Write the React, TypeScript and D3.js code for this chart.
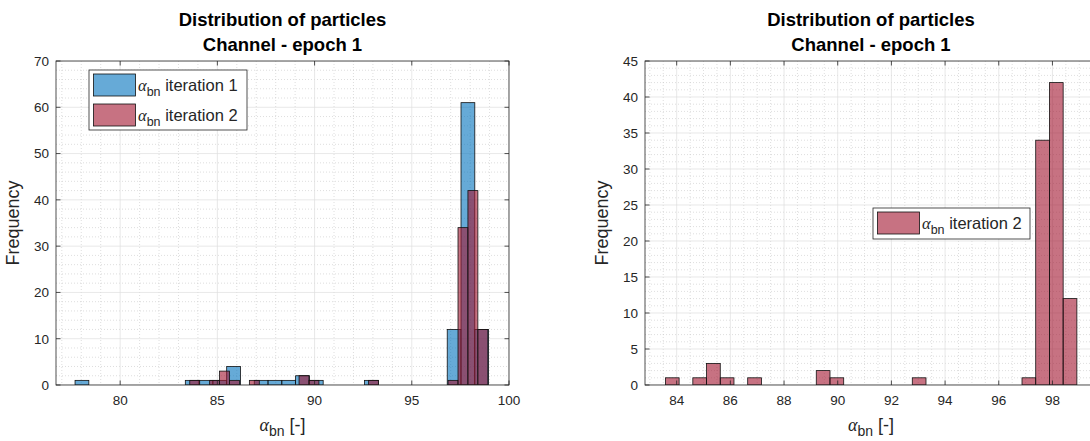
import React from 'react';
import * as d3 from 'd3';

// Histogram bins: first edge, bin width and count per bin for each iteration
const iter1Start = 77.68;
const iter1Width = 0.709;
const iter1Counts = [1, 0, 0, 0, 0, 0, 0, 0, 1, 1, 1, 4, 0, 1, 1, 1, 2, 1, 0, 0, 0, 1, 0, 0, 0, 0, 0, 12, 61, 12];

const iter2Start = 83.58;
const iter2Width = 0.511;
const iter2Counts = [1, 0, 1, 3, 1, 0, 1, 0, 0, 0, 0, 2, 1, 0, 0, 0, 0, 0, 1, 0, 0, 0, 0, 0, 0, 0, 1, 34, 42, 12];

const leftXTicks = [80, 85, 90, 95, 100];
const leftYTicks = [0, 10, 20, 30, 40, 50, 60, 70];
const rightXTicks = [84, 86, 88, 90, 92, 94, 96, 98, 100];
const rightYTicks = [0, 5, 10, 15, 20, 25, 30, 35, 40, 45];

const titleLines = ['Distribution of particles', 'Channel - epoch 1'];
const yLabel = 'Frequency';
const seriesNames = ['iteration 1', 'iteration 2'];

const BLUE = 'rgb(0,114,189)';
const RED = 'rgb(162,20,47)';
const AXIS = '#262626';
const SANS = 'Arial, "Liberation Sans", Helvetica, sans-serif';
const SERIF = '"Liberation Serif", "DejaVu Serif", serif';

type Bin = { x0: number; x1: number; count: number };
const toBins = (start: number, width: number, counts: number[]): Bin[] =>
  counts.map((count, i) => ({ x0: start + i * width, x1: start + (i + 1) * width, count }));

type Series = { bins: Bin[]; color: string };

type LegendCfg = { x: number; y: number; w: number; h: number; items: { color: string; label: string }[] };

function minorValues(domain: [number, number], step: number, majors: number[]) {
  const out: number[] = [];
  const start = Math.ceil(domain[0] / step) * step;
  for (let v = start; v <= domain[1] + 1e-9; v += step) {
    const r = Math.round(v * 1000) / 1000;
    if (!majors.some((m) => Math.abs(m - r) < 1e-6)) out.push(r);
  }
  return out;
}

function AlphaLabel({ x, y, size, subSize, rest, anchor }: { x: number; y: number; size: number; subSize: number; rest: string; anchor: string }) {
  return (
    <text x={x} y={y} textAnchor={anchor} fontFamily={SANS} fontSize={size} fill={AXIS}>
      <tspan fontFamily={SERIF} fontStyle="italic">α</tspan>
      <tspan fontSize={subSize} dy={5}>bn</tspan>
      <tspan dy={-5}>{rest}</tspan>
    </text>
  );
}

function Panel({
  id, left, right, top, bottom, xDomain, yDomain, xTicks, yTicks, xMinorStep, yMinorStep, series, legend,
}: {
  id: string; left: number; right: number; top: number; bottom: number;
  xDomain: [number, number]; yDomain: [number, number]; xTicks: number[]; yTicks: number[];
  xMinorStep: number; yMinorStep: number; series: Series[]; legend: LegendCfg;
}) {
  const x = d3.scaleLinear().domain(xDomain).range([left, right]);
  const y = d3.scaleLinear().domain(yDomain).range([bottom, top]);
  const xMinor = minorValues(xDomain, xMinorStep, xTicks);
  const yMinor = minorValues(yDomain, yMinorStep, yTicks);
  const cx = (left + right) / 2;
  const cy = (top + bottom) / 2;
  const tl = 4.5;
  const visibleXTicks = xTicks.filter((t) => t >= xDomain[0] && t <= xDomain[1]);

  return (
    <g>
      <defs>
        <clipPath id={`clip-${id}`}>
          <rect x={left} y={top} width={right - left} height={bottom - top} />
        </clipPath>
      </defs>
      <rect x={left} y={top} width={right - left} height={bottom - top} fill="#fff" />
      <g clipPath={`url(#clip-${id})`}>
        {xMinor.map((v) => (
          <line key={`xm${v}`} x1={x(v)} x2={x(v)} y1={top} y2={bottom} stroke="#c8c8c8" strokeWidth={0.6} strokeDasharray="1,2" />
        ))}
        {yMinor.map((v) => (
          <line key={`ym${v}`} x1={left} x2={right} y1={y(v)} y2={y(v)} stroke="#c8c8c8" strokeWidth={0.6} strokeDasharray="1,2" />
        ))}
        {visibleXTicks.map((v) => (
          <line key={`xg${v}`} x1={x(v)} x2={x(v)} y1={top} y2={bottom} stroke="#dedede" strokeWidth={0.7} />
        ))}
        {yTicks.map((v) => (
          <line key={`yg${v}`} x1={left} x2={right} y1={y(v)} y2={y(v)} stroke="#dedede" strokeWidth={0.7} />
        ))}
        {series.map((s, si) => (
          <g key={`s${si}`}>
            {s.bins.filter((b) => b.count > 0).map((b, bi) => (
              <rect
                key={bi}
                x={x(b.x0)}
                y={y(b.count)}
                width={x(b.x1) - x(b.x0)}
                height={y(0) - y(b.count)}
                fill={s.color}
                fillOpacity={0.6}
                stroke="#111"
                strokeWidth={0.8}
              />
            ))}
          </g>
        ))}
      </g>
      {/* box and inward ticks */}
      <rect x={left} y={top} width={right - left} height={bottom - top} fill="none" stroke={AXIS} strokeWidth={0.8} />
      {visibleXTicks.map((v) => (
        <g key={`xt${v}`}>
          <line x1={x(v)} x2={x(v)} y1={bottom} y2={bottom - tl} stroke={AXIS} strokeWidth={0.8} />
          <line x1={x(v)} x2={x(v)} y1={top} y2={top + tl} stroke={AXIS} strokeWidth={0.8} />
          <text x={x(v)} y={bottom + 20} textAnchor="middle" fontFamily={SANS} fontSize={13.5} fill={AXIS}>{v}</text>
        </g>
      ))}
      {yTicks.map((v) => (
        <g key={`yt${v}`}>
          <line x1={left} x2={left + tl} y1={y(v)} y2={y(v)} stroke={AXIS} strokeWidth={0.8} />
          <line x1={right} x2={right - tl} y1={y(v)} y2={y(v)} stroke={AXIS} strokeWidth={0.8} />
          <text x={left - 7} y={y(v) + 4.8} textAnchor="end" fontFamily={SANS} fontSize={13.5} fill={AXIS}>{v}</text>
        </g>
      ))}
      <text x={cx} y={26} textAnchor="middle" fontFamily={SANS} fontSize={18.5} fontWeight="bold" fill="#000">{titleLines[0]}</text>
      <text x={cx} y={51} textAnchor="middle" fontFamily={SANS} fontSize={18.5} fontWeight="bold" fill="#000">{titleLines[1]}</text>
      <text transform={`translate(${left - 37},${cy}) rotate(-90)`} textAnchor="middle" fontFamily={SANS} fontSize={18} fill={AXIS}>{yLabel}</text>
      <AlphaLabel x={cx} y={431} size={18} subSize={14} rest=" [-]" anchor="middle" />
      {/* legend */}
      <rect x={legend.x} y={legend.y} width={legend.w} height={legend.h} fill="#fff" stroke={AXIS} strokeWidth={0.8} />
      {legend.items.map((it, i) => (
        <g key={`lg${i}`}>
          <rect x={legend.x + 4.5} y={legend.y + 4 + i * 30} width={42} height={22} fill={it.color} fillOpacity={0.6} stroke="#111" strokeWidth={0.8} />
          <AlphaLabel x={legend.x + 49} y={legend.y + 20.5 + i * 30} size={16.5} subSize={12.5} rest={' ' + it.label} anchor="start" />
        </g>
      ))}
    </g>
  );
}

export default function App() {
  const bins1 = toBins(iter1Start, iter1Width, iter1Counts);
  const bins2 = toBins(iter2Start, iter2Width, iter2Counts);
  return (
    <svg width={1090} height={441} style={{ position: 'absolute', left: 0, top: 0, background: '#fff' }}>
      <rect width={1090} height={441} fill="#fff" />
      <Panel
        id="a"
        left={56} right={509} top={61} bottom={385}
        xDomain={[76.7, 100]} yDomain={[0, 70]}
        xTicks={leftXTicks} yTicks={leftYTicks}
        xMinorStep={1} yMinorStep={2}
        series={[{ bins: bins1, color: BLUE }, { bins: bins2, color: RED }]}
        legend={{ x: 89, y: 70, w: 158, h: 60, items: [{ color: BLUE, label: seriesNames[0] }, { color: RED, label: seriesNames[1] }] }}
      />
      <Panel
        id="b"
        left={645} right={1097} top={61} bottom={385}
        xDomain={[82.82, 99.66]} yDomain={[0, 45]}
        xTicks={rightXTicks} yTicks={rightYTicks}
        xMinorStep={0.5} yMinorStep={1}
        series={[{ bins: bins2, color: RED }]}
        legend={{ x: 873, y: 208, w: 157, h: 31, items: [{ color: RED, label: seriesNames[1] }] }}
      />
    </svg>
  );
}
